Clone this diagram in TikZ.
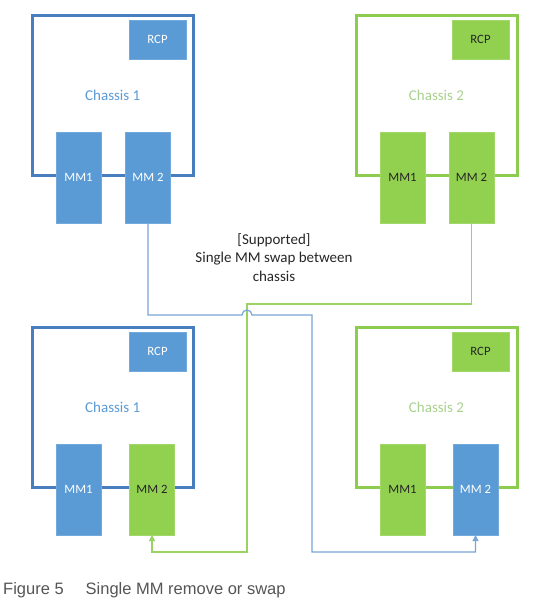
\documentclass[tikz,border=0pt]{standalone}
\usepackage{fontspec}
\setmainfont{Carlito}
\newfontfamily\capfont{Liberation Sans}
\usepackage{tikz}
\usetikzlibrary{arrows.meta}
\definecolor{cardblue}{RGB}{91,155,213}
\definecolor{frameblue}{RGB}{72,125,190}
\definecolor{cardgreen}{RGB}{146,208,80}
\definecolor{framegreen}{RGB}{140,204,78}
\definecolor{labelgreen}{RGB}{169,209,142}
\definecolor{linkblue}{RGB}{120,165,215}
\definecolor{linkgreen}{RGB}{155,210,100}
\definecolor{notegray}{RGB}{38,38,38}
\definecolor{capgray}{RGB}{85,85,85}
\tikzset{
  chframe/.style={rectangle, draw, line width=3pt, inner sep=0pt, outer sep=0pt,
    minimum width=161pt, minimum height=160pt, font=\fontsize{15}{18}\selectfont},
  bluechassis/.style={chframe, draw=frameblue, text=cardblue},
  greenchassis/.style={chframe, draw=framegreen, text=labelgreen},
  card/.style={rectangle, inner sep=0pt, outer sep=0pt, line width=0.6pt,
    font=\fontsize{12.7}{15}\selectfont},
  bluecard/.style={card, fill=cardblue, draw=cardblue!85!white, text=white},
  greencard/.style={card, fill=cardgreen, draw=cardgreen!85!white, text=black!85},
  mmcard/.style={minimum width=45pt, minimum height=91pt},
  rcpcard/.style={minimum width=57pt, minimum height=39pt},
  link/.style={line width=1.2pt, -{Triangle[length=6pt, width=6pt]}},
}

\begin{document}
\begin{tikzpicture}[x=1pt, y=-1pt]
  \useasboundingbox (0,0) rectangle (545,608);

  %% Top row: before the swap
  \node[bluechassis] (ch1a) at (112.75,95.5) {Chassis 1};
  \node[bluecard, rcpcard] (rcpa) at (157.5,39.5) {RCP};
  \node[bluecard, mmcard] (mm1a) at (78.5,177.5) {MM1};
  \node[bluecard, mmcard] (mm2a) at (148,177.5) {MM 2};

  \node[greenchassis] (ch2a) at (436.5,95.5) {Chassis 2};
  \node[greencard, rcpcard] (rcpb) at (480.5,39.5) {RCP};
  \node[greencard, mmcard] (mm1b) at (402.5,177.5) {MM1};
  \node[greencard, mmcard] (mm2b) at (471.5,177.5) {MM 2};

  %% Note
  \node[align=center, text=notegray, font=\fontsize{15}{18.5}\selectfont] (note)
    at (274,257.5) {[Supported]\\Single MM swap between\\chassis};

  %% Bottom row: after the swap
  \node[bluechassis] (ch1b) at (112.75,407.5) {Chassis 1};
  \node[bluecard, rcpcard] (rcpc) at (157.5,351.5) {RCP};
  \node[bluecard, mmcard] (mm1c) at (78.5,489.5) {MM1};
  \node[greencard, mmcard] (mm2c) at (152,489.5) {MM 2};

  \node[greenchassis] (ch2b) at (436.5,407.5) {Chassis 2};
  \node[greencard, rcpcard] (rcpd) at (480.5,351.5) {RCP};
  \node[greencard, mmcard] (mm1d) at (402.5,489.5) {MM1};
  \node[bluecard, mmcard] (mm2d) at (475.5,489.5) {MM 2};

  %% Swap paths
  \coordinate (hop) at (247,315);
  \coordinate (bluedrop) at (312,552);
  \coordinate (greenjog) at (247,304);
  \coordinate (greendrop) at (247,552);

  \draw[link, linkgreen] (mm2b.south) |- (greenjog) -- (greendrop) -| (mm2c.south);
  \draw[link, linkblue] (mm2a.south) |- ([xshift=-5pt]hop)
    arc[start angle=180, end angle=0, radius=5pt] -| (bluedrop) -| (mm2d.south);

  %% Caption
  \node[anchor=base west, inner sep=0pt, text=capgray, font=\capfont\fontsize{16.5}{20}\selectfont]
    (caption) at (3,594) {Figure 5\hspace{22pt}Single MM remove or swap};
\end{tikzpicture}
\end{document}
